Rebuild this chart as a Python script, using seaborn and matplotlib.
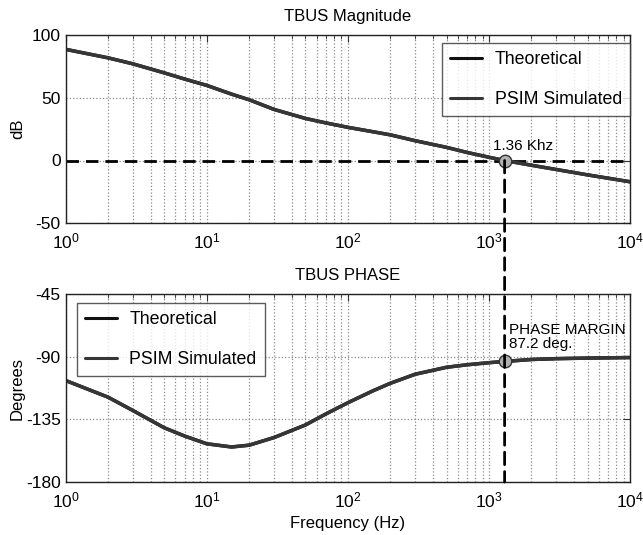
import numpy as np
import pandas as pd
import matplotlib
matplotlib.use("Agg")
import matplotlib.pyplot as plt
import seaborn as sns
from matplotlib.patches import ConnectionPatch
from matplotlib.ticker import LogLocator, NullFormatter

# ---------------- data ----------------
freq_hz = [1, 2, 3, 5, 7, 10, 15, 20, 30, 50, 70, 100, 150, 200, 300, 500, 700,
           1000, 1290, 2000, 3000, 5000, 10000]
mag_theoretical_db = [88.8, 82.0, 77.2, 70.0, 65.0, 60.0, 53.0, 48.5, 40.8, 33.6, 30.0,
                      26.5, 23.0, 20.5, 15.8, 10.5, 6.4, 2.6, 0.0, -3.8, -7.2, -11.5, -17.0]
mag_psim_db = [88.8, 82.0, 77.2, 70.0, 65.0, 60.0, 53.0, 48.5, 40.8, 33.6, 30.0,
               26.5, 23.0, 20.5, 15.8, 10.5, 6.4, 2.6, 0.0, -3.8, -7.2, -11.5, -17.0]
phase_theoretical_deg = [-107.0, -119.0, -128.6, -141.0, -147.0, -152.5, -154.8, -153.5,
                         -148.0, -139.0, -131.0, -123.0, -114.5, -109.0, -102.5, -97.5,
                         -95.7, -94.2, -93.3, -91.9, -91.3, -90.9, -90.5]
phase_psim_deg = [-107.0, -119.0, -128.6, -141.0, -147.0, -152.5, -154.8, -153.5,
                  -148.0, -139.0, -131.0, -123.0, -114.5, -109.0, -102.5, -97.5,
                  -95.7, -94.2, -93.3, -91.9, -91.3, -90.9, -90.5]

crossover_hz = 1290
crossover_label = "1.36 Khz"
margin_phase = -93.3
margin_label = "PHASE MARGIN\n87.2 deg."
series_names = ["Theoretical", "PSIM Simulated"]

mag_yticks = [-50, 0, 50, 100]
phase_yticks = [-180, -135, -90, -45]

# ---------------- style ----------------
sns.set_style("white")
plt.rcParams["font.family"] = ["Liberation Sans", "DejaVu Sans"]
plt.rcParams["mathtext.fontset"] = "custom"
plt.rcParams["mathtext.rm"] = "Liberation Sans"
plt.rcParams["mathtext.it"] = "Liberation Sans"
plt.rcParams["axes.unicode_minus"] = False
plt.rcParams["text.color"] = "black"
plt.rcParams["axes.labelcolor"] = "black"
plt.rcParams["xtick.color"] = "black"
plt.rcParams["ytick.color"] = "black"

fig = plt.figure(figsize=(6.43, 5.35), dpi=100)
ax1 = fig.add_axes([0.102, 0.583, 0.878, 0.351])
ax2 = fig.add_axes([0.102, 0.099, 0.878, 0.351])

mag_df = pd.DataFrame({
    "Frequency": freq_hz * 2,
    "value": mag_theoretical_db + mag_psim_db,
    "series": [series_names[0]] * len(freq_hz) + [series_names[1]] * len(freq_hz),
})
ph_df = pd.DataFrame({
    "Frequency": freq_hz * 2,
    "value": phase_theoretical_deg + phase_psim_deg,
    "series": [series_names[0]] * len(freq_hz) + [series_names[1]] * len(freq_hz),
})
palette = {series_names[0]: "#111111", series_names[1]: "#363636"}

for ax, df in [(ax1, mag_df), (ax2, ph_df)]:
    sns.lineplot(data=df, x="Frequency", y="value", hue="series", palette=palette,
                 linewidth=2.5, ax=ax, legend=True)
    ax.set_xscale("log")
    ax.set_xlim(1, 1e4)
    ax.xaxis.set_major_locator(LogLocator(base=10, numticks=10))
    ax.xaxis.set_minor_locator(LogLocator(base=10, subs=np.arange(2, 10), numticks=20))
    ax.xaxis.set_minor_formatter(NullFormatter())
    ax.grid(True, which="major", axis="both", linestyle=":", color="#8a8a8a", linewidth=0.9)
    ax.grid(True, which="minor", axis="x", linestyle=":", color="#8a8a8a", linewidth=0.9)
    ax.tick_params(which="both", direction="in", top=True, right=True, labelsize=12.5,
                   color="#333333", labelcolor="black")
    ax.tick_params(which="major", length=5)
    ax.tick_params(which="minor", length=3)
    ax.tick_params(axis="x", which="major", pad=6)
    for s in ax.spines.values():
        s.set_color("#222222")
        s.set_linewidth(1.0)

ax1.set_ylim(-50, 100)
ax1.set_yticks(mag_yticks)
ax1.set_ylabel("dB", fontsize=12)
ax1.set_xlabel("")
ax1.set_title("TBUS Magnitude", fontsize=12, pad=10)
ax1.yaxis.set_label_coords(-0.072, 0.5)

ax2.set_ylim(-180, -45)
ax2.set_yticks(phase_yticks)
ax2.set_ylabel("Degrees", fontsize=12)
ax2.set_xlabel("Frequency (Hz)", fontsize=12, labelpad=4)
ax2.set_title("TBUS PHASE", fontsize=12, pad=10)
ax2.yaxis.set_label_coords(-0.072, 0.5)

leg_kw = dict(fontsize=12.8, frameon=True, fancybox=False, labelspacing=1.3,
              handlelength=1.8, handletextpad=0.7, borderaxespad=0, borderpad=0.45)
l1 = ax1.legend(loc="upper right", bbox_to_anchor=(1.0, 0.957), **leg_kw)
l2 = ax2.legend(loc="upper left", bbox_to_anchor=(0.02, 0.952), **leg_kw)
for lg in (l1, l2):
    lg.get_frame().set_edgecolor("#333333")
    lg.get_frame().set_linewidth(1.0)
    for h in lg.legend_handles:
        h.set_linewidth(2.2)

# 0 dB dashed line
ax1.axhline(0, color="black", linestyle=(0, (4.5, 2.5)), linewidth=2.0, zorder=1.5)

# vertical dashed line across both panels
con = ConnectionPatch(xyA=(crossover_hz, 0), coordsA=ax1.transData,
                      xyB=(crossover_hz, -180), coordsB=ax2.transData,
                      color="black", linestyle=(0, (4.5, 2.5)), linewidth=2.0, zorder=1.5)
fig.add_artist(con)

# markers
ax1.plot([crossover_hz], [0], "o", markersize=9, markerfacecolor="#b0b0b0",
         markeredgecolor="#333333", markeredgewidth=1.0, zorder=5)
ax2.plot([crossover_hz], [margin_phase], "o", markersize=9, markerfacecolor="#b0b0b0",
         markeredgecolor="#333333", markeredgewidth=1.0, zorder=5)

ax1.annotate(crossover_label, xy=(crossover_hz, 0), xytext=(-12, 8),
             textcoords="offset pixels", fontsize=11, ha="left", va="bottom")
ax2.annotate(margin_label, xy=(crossover_hz, margin_phase), xytext=(4, 10),
             textcoords="offset pixels", fontsize=11, ha="left", va="bottom",
             linespacing=1.05)

fig.savefig("out.png", dpi=100, facecolor="white")
